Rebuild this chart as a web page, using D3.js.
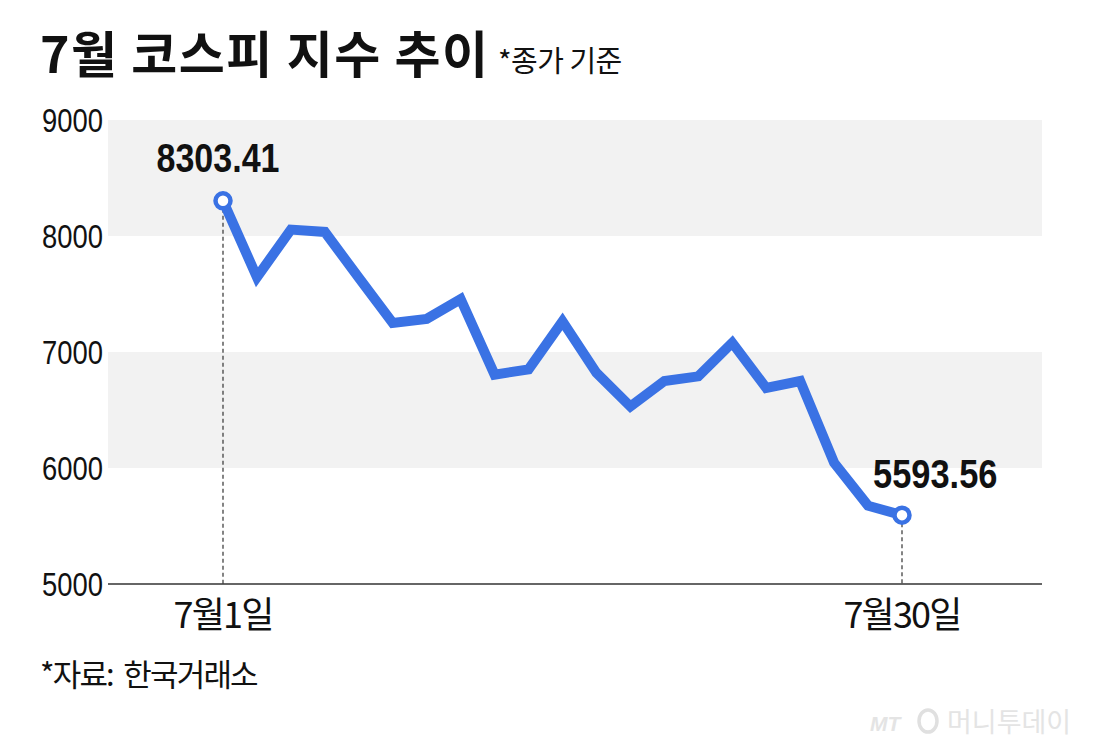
<!DOCTYPE html>
<html><head><meta charset="utf-8">
<script src="https://cdn.jsdelivr.net/npm/d3@7"></script>
<style>
html,body{margin:0;padding:0;background:#fff;}
svg{display:block;}
</style></head>
<body>
<script>
const days = ["7월1일","7월2일","7월3일","7월6일","7월7일","7월8일","7월9일","7월10일","7월13일","7월14일","7월15일","7월16일","7월17일","7월20일","7월21일","7월22일","7월23일","7월24일","7월27일","7월28일","7월30일"];
const closes = [8303.41,7645,8055,8035,7640,7250,7285,7455,6805,6850,7265,6820,6530,6750,6790,7080,6690,6750,6045,5675,5593.56];
const yTicks = [5000,6000,7000,8000,9000];
const xTickLabels = ["7월1일","7월30일"];
const labelIdx = [0, 20];
const labelText = ["8303.41","5593.56"];

const W=1094,H=748;
const svg=d3.select("body").append("svg").attr("width",W).attr("height",H);
const pLeft=108,pRight=1042,pTop=120,pBottom=584;
const x=d3.scalePoint().domain(days).range([223,902]);
const y=d3.scaleLinear().domain([5000,9000]).range([pBottom,pTop]);
const latin="'Liberation Sans',Arial,sans-serif";
const kr="'Noto Sans CJK KR','Noto Sans',sans-serif";

// bands
const bands=[[8000,9000],[6000,7000]];
svg.selectAll("rect.band").data(bands).enter().append("rect")
  .attr("x",pLeft).attr("width",pRight-pLeft)
  .attr("y",d=>y(d[1])).attr("height",d=>y(d[0])-y(d[1]))
  .attr("fill","#f2f2f2");

// y axis labels (condensed)
svg.selectAll("text.yt").data(yTicks).enter().append("text")
  .attr("transform",d=>`translate(103,${y(d)+12}) scale(0.83,1)`)
  .attr("text-anchor","end").attr("font-family",latin).attr("font-size",33)
  .attr("fill","#111").text(d=>d);

// x axis line
svg.append("line").attr("x1",pLeft).attr("x2",pRight).attr("y1",pBottom).attr("y2",pBottom)
  .attr("stroke","#333").attr("stroke-width",1.5);

// dashed drop lines
svg.selectAll("line.drop").data(labelIdx).enter().append("line")
  .attr("x1",i=>x(days[i])).attr("x2",i=>x(days[i]))
  .attr("y1",i=>y(closes[i])+8).attr("y2",pBottom)
  .attr("stroke","#333").attr("stroke-width",1.2).attr("stroke-dasharray","4,3");

// line
const line=d3.line().x((d,i)=>x(days[i])).y(d=>y(d));
svg.append("path").datum(closes).attr("d",line)
  .attr("fill","none").attr("stroke","#3a72e4").attr("stroke-width",10)
  .attr("stroke-linejoin","miter").attr("stroke-miterlimit",3);

// end circles
svg.selectAll("circle.end").data(labelIdx).enter().append("circle")
  .attr("cx",i=>x(days[i])).attr("cy",i=>y(closes[i])).attr("r",7.5)
  .attr("fill","#fff").attr("stroke","#3a72e4").attr("stroke-width",4.5);

// value labels (condensed bold)
svg.append("text").attr("transform",`translate(${x(days[0])-5},172) scale(0.83,1)`)
  .attr("text-anchor","middle")
  .attr("font-family",latin).attr("font-weight","bold").attr("font-size",41).attr("fill","#111")
  .text(labelText[0]);
svg.append("text").attr("transform",`translate(${x(days[20])-29},488) scale(0.84,1)`)
  .attr("text-anchor","start")
  .attr("font-family",latin).attr("font-weight","bold").attr("font-size",41).attr("fill","#111")
  .text(labelText[1]);

// x tick labels
svg.selectAll("text.xt").data(xTickLabels).enter().append("text")
  .attr("x",(d,i)=>x(days[labelIdx[i]])).attr("y",628).attr("text-anchor","middle")
  .attr("font-family",kr).attr("font-size",36).attr("letter-spacing",-1.8).attr("fill","#111").text(d=>d);

// title
svg.append("text").attr("x",40).attr("y",73).attr("font-family",kr).attr("font-weight","bold")
  .attr("font-size",50).attr("letter-spacing",1.5).attr("fill","#111").text("7월 코스피 지수 추이");
svg.append("text").attr("x",498).attr("y",72).attr("font-family",kr)
  .attr("font-size",29).attr("letter-spacing",-0.5).attr("fill","#111").text("*종가 기준");

// source
svg.append("text").attr("x",40).attr("y",686).attr("font-family",kr)
  .attr("font-size",31).attr("letter-spacing",-1.8).attr("fill","#111")
  .style("white-space","pre").text("*자료:  한국거래소");

// watermark
const wm=svg.append("g").attr("fill","#e4e4e4");
wm.append("text").attr("x",870).attr("y",731).attr("font-family",latin)
  .attr("font-style","italic").attr("font-weight","bold").attr("font-size",21).text("MT");
wm.append("ellipse").attr("cx",928).attr("cy",721).attr("rx",9).attr("ry",11)
  .attr("fill","none").attr("stroke","#e0e0e0").attr("stroke-width",3.5);
wm.append("text").attr("x",947).attr("y",732).attr("font-family",kr)
  .attr("font-size",27).attr("letter-spacing",0).text("머니투데이");
</script>
</body></html>
